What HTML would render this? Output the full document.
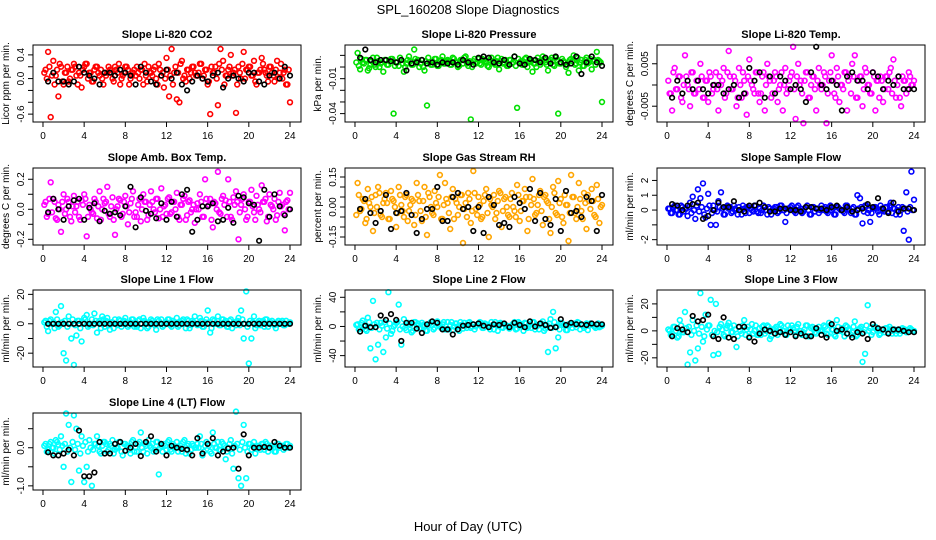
<!DOCTYPE html>
<html><head><meta charset="utf-8"><style>
html,body{margin:0;padding:0;background:#fff;}
svg{display:block;font-family:"Liberation Sans",sans-serif;}
</style></head><body>
<svg id="chart" width="936" height="540" viewBox="0 0 936 540" xmlns="http://www.w3.org/2000/svg">
<text x="468" y="14" text-anchor="middle" font-size="13">SPL_160208  Slope Diagnostics</text>
<text x="468" y="531" text-anchor="middle" font-size="13">Hour of Day (UTC)</text>
</svg>
<script>
// ---------- data ----------
const xTicks = [0,4,8,12,16,20,24];
const titles = ["Slope Li-820 CO2","Slope Li-820 Pressure","Slope Li-820 Temp.","Slope Amb. Box Temp.","Slope Gas Stream RH","Slope Sample Flow","Slope Line 1 Flow","Slope Line 2 Flow","Slope Line 3 Flow","Slope Line 4 (LT) Flow"];
const yTitles = ["Licor ppm per min.","kPa per min.","degrees C per min.","degrees C per min.","percent per min.","ml/min per min.","ml/min per min.","ml/min per min.","ml/min per min.","ml/min per min."];

const co2 = [.15,.45,-.65,.3,.05,-.3,.2,-.1,.1,-.05,.15,.25, .05,.1,-.15,.2,.25,.1,-.05,.15,.2,.05,.0,.1, .1,.15,.0,.2,.1,-.1,.05,.2,.15,.0,.1,.05, .1,.15,-.1,.05,.2,.1,.15,.0,.25,.05,-.15,.35, -.3,.5,.1,-.35,-.4,.3,.05,.15,.0,.2,.1,.05, .25,.0,.15,-.1,-.6,.1,.2,-.45,.5,.3,.05,.15, .4,.1,-.58,.2,.0,.45,.15,.2,.05,.3,-.1,.1, .35,.15,.05,.2,.1,-.05,.3,.1,.0,.15,-.1,-.4];
const co2B = [.1,0,.2,.05,-.1,.15,.25,-.05,.1,.2,0,.15, .2,-.1,.05,.15,.25,0,.1,-.05,.2,.1,.15,-.1, .05,.2,.1,-.05,.15,.25,0,.1,.2,-.1,.05,.15, .2,0,.15,.25,-.05,.1,.05,.2,-.1,.15,.1,0, .15,.05,-.1,.2,.1,.25,0,-.05,.15,.1,.2,.05, .1,.25,.05,.15,-.05,.2,.1,0,.25,.15,-.1,.05, .2,.05,.15,-.1,.1,.25,0,.15,.2,.05,-.05,.1, .15,.25,.1,-.05,.2,.05,.15,0,.25,.1,-.1,.15];
const co2Ref = [-.05,.1,-.05,-.05,-.1,-.05,.2,.1,.05,.0,-.1,.1,.1,.05,.15,.1,.05,-.1,.2,.1,-.05,-.1,.05,.15,.0,.1,-.1,-.2,-.05,.05,.0,-.05,.05,.1,-.15,.0,.05,.0,-.05,.1,.1,-.05,-.1,.05,.1,.0,.2,.05];

const pressure = [.012,-.002,.004,.006,-.003,.002,.008,.000,.005,.003,-.004,.006, .002,.007,-.040,.004,.001,.006,-.004,.003,.009,.002,.015,.005, .000,.006,-.003,-.033,.004,.002,.007,.001,.005,.009,.003,.006, .002,.008,.004,.000,.006,.003,.009,.001,-.045,.005,.003,.007, .002,.006,.004,.000,.008,.003,.005,-.002,.007,.004,.001,.006, .003,.009,-.035,.004,.002,.007,.000,.005,-.004,.003,.008,.002, .009,.004,-.003,.006,.002,.008,-.040,.003,.005,.000,-.005,.007, .010,.003,-.003,.006,.001,.008,.004,-.002,.006,.013,.005,-.030];
const pressureB = [.004,.001,.007,.003,.006,-.001,.005,.002,.008,.000,.004,.006, .002,.005,.007,.001,.004,.008,.003,.000,.006,.005,.002,.007, .006,.003,.000,.005,.008,.002,.004,.007,.001,.006,.003,.005, .005,.002,.007,.004,.001,.006,.008,.003,.005,.000,.007,.004, .003,.007,.005,.001,.006,.004,.002,.008,.005,.003,.006,.001, .006,.004,.001,.007,.005,.002,.008,.004,.006,.003,.000,.005, .004,.007,.002,.005,.008,.001,.006,.003,.007,.004,.002,.006, .005,.002,.008,.004,.001,.006,.003,.007,.005,.002,.006,.004];
const pressureRef = [.008,.015,.006,.004,.006,.006,.005,.004,.006,-.003,.003,.004,.006,.003,.004,.002,.004,.003,.004,.002,.006,.004,.002,.008,.009,.008,.004,.003,.006,.002,.009,.003,.002,.007,.006,.004,.008,.003,.009,.004,.002,.003,.009,-.006,.004,.009,.004,.001];

const licorTemp = [-.002,-.006,.004,-.001,.002,-.004,.007,.000,-.005,.003,-.002,.001, .005,-.003,.001,-.004,.002,-.001,.003,-.006,.000,.004,-.002,.008, -.001,.002,-.005,.004,-.003,.001,-.007,.006,.000,-.002,.003,-.004, .002,-.006,.005,.001,-.002,.003,-.004,.000,-.006,.004,-.001,.002, .009,-.008,.005,.001,-.009,.003,-.003,.000,.002,-.006,.004,-.001, .003,-.009,.001,.007,-.002,.004,-.004,.000,.003,-.006,.002,.005, .007,-.003,.002,-.005,.004,.000,-.002,.003,-.006,.001,.002,-.004, .002,-.001,.004,.006,-.003,.002,-.005,.001,-.002,.003,.000,.001];
const licorTempB = [.001,-.002,.003,-.001,.002,-.003,.000,.002,-.001,.003,-.002,.001, -.001,.002,-.003,.001,.003,-.002,.000,-.001,.002,.001,-.003,.003, .002,-.001,.001,-.003,.000,.003,-.002,.002,.001,-.001,.003,-.002, -.002,.003,.000,.002,-.003,.001,.002,-.001,.003,.000,-.002,.001, .003,-.001,.002,.000,-.002,.001,.003,-.003,.002,-.001,.001,.000, .000,.002,-.002,.003,.001,-.003,.002,.000,-.001,.003,.001,-.002, .002,-.003,.001,.002,-.001,.003,.000,-.002,.002,.001,-.003,.001, -.001,.002,.003,-.002,.001,.000,-.003,.002,.001,-.001,.002,.000];
const licorTempRef = [-.003,.001,-.002,.001,-.001,.001,-.001,-.002,.000,.000,-.002,-.001,.000,-.003,-.002,.004,.001,.003,-.003,.002,-.002,.002,.001,-.001,.000,-.001,-.004,.003,.009,.000,-.001,.001,.000,-.006,.002,.003,.001,.001,-.001,.003,.002,-.001,.001,.000,.002,-.001,-.001,-.001];

const boxTemp = [.05,-.03,.18,.07,-.06,.03,-.15,.10,.00,.05,-.08,.09, .02,-.05,.06,.10,-.18,.03,-.02,.07,-.06,.12,.00,.04, .15,-.05,.08,-.17,.02,.06,-.03,.09,-.10,.04,.12,-.02, .03,-.08,.10,.05,-.04,.12,.00,.07,-.06,.14,.02,-.03, .08,-.02,.05,.11,-.07,.03,.09,-.04,.06,.00,-.09,.04, .10,-.05,.20,.02,.07,-.12,.04,.25,-.03,.09,.06,.20, -.05,.08,.12,-.20,.03,.10,-.07,.05,.13,-.02,.09,.00, .16,.05,-.08,.10,.02,.07,-.04,.11,.03,-.14,.06,.11];
const boxTempB = [.03,-.05,.07,-.02,.05,-.07,.00,.05,-.03,.07,-.05,.02, -.02,.05,-.07,.03,.07,-.05,.00,-.03,.05,.02,-.07,.07, .05,-.03,.02,-.07,.00,.07,-.05,.05,.02,-.02,.07,-.05, -.05,.07,.00,.05,-.07,.03,.05,-.02,.07,.00,-.05,.03, .07,-.03,.05,.00,-.05,.03,.07,-.07,.05,-.02,.03,.00, .00,.05,-.05,.07,.03,-.07,.05,.00,-.02,.07,.03,-.05, .05,-.07,.03,.05,-.02,.07,.00,-.05,.05,.02,-.07,.03, -.02,.05,.07,-.05,.03,.00,-.07,.05,.02,-.03,.05,.00];
const boxTempRef = [-.02,.07,.00,-.07,.02,.06,.07,-.07,.01,.04,-.08,-.01,-.03,-.02,-.04,.02,.15,-.12,.08,-.01,-.03,-.06,.04,-.07,.05,-.05,.10,.13,-.15,-.07,.02,.02,.04,-.08,-.07,.01,-.09,.09,.08,.04,.03,-.21,.13,-.05,.10,.02,-.04,.00];

const gasRH = [.12,-.02,.04,-.08,.09,.00,-.12,.06,.10,-.04,.02,.07, -.06,.08,.03,-.10,.10,.01,-.05,.06,-.02,.04,-.09,.12, .03,-.07,.10,-.14,.05,-.03,.08,.00,.16,-.06,.12,.02, -.11,.09,.04,-.04,.06,-.18,.02,.07,-.08,.18,-.01,.05, -.06,.03,.09,-.15,.01,.06,-.03,.08,-.10,.04,.00,-.05, .07,-.02,.11,-.07,.03,.09,-.12,.05,.14,-.04,.01,.08, -.09,.06,.02,-.13,.10,-.03,.13,.04,-.08,.01,-.17,.16, .05,-.06,.12,-.02,.07,-.11,.03,.09,-.04,.11,-.08,.01];
const gasRHB = [-.04,.06,-.01,.03,-.06,.02,.05,-.03,.00,.07,-.05,.04, .02,-.06,.04,.00,-.03,.06,-.02,.05,-.07,.01,.03,-.04, .06,-.02,.03,-.05,.07,.00,-.04,.02,.05,-.06,.01,.04, -.03,.05,-.06,.02,.00,.06,-.01,-.05,.04,-.02,.07,-.04, .01,-.05,.06,-.03,.04,.00,-.06,.03,.07,-.02,.05,-.04, .04,.00,-.05,.06,-.02,.03,.05,-.06,.01,.04,-.03,.06, -.02,.05,.03,-.06,.00,.07,-.04,.02,-.05,.06,.01,-.03, .05,-.03,.00,.04,-.06,.02,.06,-.01,.03,-.05,.04,.00];
const gasRHRef = [-.01,.04,-.03,-.08,-.02,.06,-.11,-.03,-.02,.07,-.04,-.13,-.06,-.01,-.01,.10,-.07,-.07,.05,.07,-.01,.00,-.12,.00,-.13,.05,.01,-.09,-.08,-.10,.05,.02,-.01,.09,-.07,.07,-.06,-.09,.04,-.12,.08,-.03,-.02,-.05,.05,.03,-.12,.06];

const sampleFlow = [.1,-.2,.3,.0,-.3,.2,.1,-.4,.5,.9,-.6,1.4, .8,1.8,-.5,1.1,-1.0,.3,-1.0,.6,1.2,-.3,.2,.1, -.2,.3,.0,.2,-.3,.1,.2,-.2,.0,.3,-.1,.1, .0,.2,-.3,.1,.0,.2,-.2,.3,.0,-.8,.1,.2, .0,-.2,.3,.1,-.1,.2,.0,-.3,.2,.1,-.2,.3, .1,-.1,.2,.0,-.3,.2,.1,.0,-.2,.3,.0,.1, -.3,1.0,.8,-.9,.3,-.2,-.8,.1,.2,-.1,.3,.0, .2,-.1,.5,.1,-.3,.2,.0,-1.4,1.2,-2.0,2.6,.7];
const sampleFlowB = [.1,-.2,.2,0,-.3,.3,-.1,.1,.2,-.2,0,.3, -.1,.2,-.3,.1,.3,-.2,0,-.1,.2,.1,-.3,.3, .2,-.1,.1,-.3,0,.3,-.2,.2,.1,-.1,.3,-.2, -.2,.3,0,.2,-.3,.1,.2,-.1,.3,0,-.2,.1, .3,-.1,.2,0,-.2,.1,.3,-.3,.2,-.1,.1,0, 0,.2,-.2,.3,.1,-.3,.2,0,-.1,.3,.1,-.2, .2,-.3,.1,.2,-.1,.3,0,-.2,.2,.1,-.3,.1, -.1,.2,.3,-.2,.1,0,-.3,.2,.1,-.1,.2,0];
const sampleFlowRef = [.4,.3,.0,.3,.4,.5,-.6,-.4,.0,.5,.2,.2,.6,.0,-.1,.3,.3,.5,.2,-.1,-.1,.1,.1,.0,.0,-.1,.2,.2,.1,.1,.0,.2,.3,.0,.2,-.1,.0,.1,.4,.2,.8,.1,-.2,.5,-.1,.1,.1,.0];

const line1 = [2,-5,3,1,8,-2,12,-20,-25,5,-10,-28, -8,2,-12,4,6,-1,3,7,-6,2,5,-2, 4,-4,1,3,-1,2,0,4,-2,1,3,-1, 2,-3,4,1,-2,3,0,-4,2,3,-1,1, 3,-2,1,4,-1,2,0,3,-3,2,5,-1, 4,-2,1,9,-6,3,0,5,-1,3,2,-2, 3,0,-1,4,9,-10,22,-27,-10,5,-1,2, 1,-2,3,0,2,-1,1,0,2,-1,0,1];
const line1B = [1,-2,2,0,-3,3,-1,1,2,-2,0,3, -1,2,-3,1,3,-2,0,-1,2,1,-3,3, 2,-1,1,-3,0,3,-2,2,1,-1,3,-2, -2,3,0,2,-3,1,2,-1,3,0,-2,1, 3,-1,2,0,-2,1,3,-3,2,-1,1,0, 0,2,-2,3,1,-3,2,0,-1,3,1,-2, 2,-3,1,2,-1,3,0,-2,2,1,-3,1, -1,2,3,-2,1,0,-3,2,1,-1,2,0];
const line1Ref = [0,0,0,0,0,0,0,0,0,0,0,0,0,0,0,0,0,0,0,0,0,0,0,0,0,0,0,0,0,0,0,0,0,0,0,0,0,0,0,0,0,0,0,0,0,0,0,0];

const line2 = [3,-2,8,-4,12,-30,35,-45,-25,5,-35,-15, 47,-10,0,5,30,-25,10,-5,3,-8,6,2, -3,5,1,-6,4,2,-2,7,0,3,-4,6, 2,-5,4,0,6,-3,1,5,-2,3,0,4, 5,-2,3,0,6,-4,2,4,-1,3,1,-3, 2,6,-3,4,0,5,-2,3,6,-4,1,3, 7,-3,-35,10,20,-30,-15,5,2,-5,3,4, 3,-1,5,2,-2,4,1,3,0,2,-1,1];
const line2B = [2,-4,5,0,-6,6,-2,3,5,-4,1,6, -3,4,-6,2,6,-4,0,-2,5,2,-6,6, 4,-2,2,-6,1,6,-4,5,2,-2,6,-4, -4,6,0,4,-6,2,5,-2,6,0,-4,2, 6,-2,4,0,-4,2,6,-6,5,-2,2,0, 0,4,-4,6,2,-6,4,0,-2,6,2,-4, 4,-6,2,4,-2,6,0,-4,4,2,-5,2, -2,4,6,-4,2,0,-5,4,2,-2,4,0];
const line2Ref = [-7,1,-1,-1,15,9,17,9,-20,5,5,-3,-9,3,7,5,-4,-4,-11,-4,1,2,3,4,1,-1,3,2,4,-1,5,2,-1,7,0,4,2,-2,-1,10,2,5,3,3,2,4,3,3];

const line3 = [0,-2,3,-5,8,-1,14,-25,-16,8,-22,-13, 28,-8,12,4,23,-18,20,-17,5,-3,2,6, -1,4,-12,3,-2,8,1,-4,5,0,-3,2, 3,-2,4,-6,1,2,-3,5,0,-2,4,1, 2,-3,5,0,-1,4,-4,2,1,-2,3,0, 4,-2,6,1,-3,8,0,2,-4,3,1,-1, 7,-3,2,-23,-17,19,2,-1,3,0,-2,1, 2,-1,1,0,-2,1,0,1,-1,0,1,0];
const line3B = [1,-3,3,0,-4,4,-1,2,3,-3,0,4, -2,3,-4,1,4,-3,0,-1,3,1,-4,4, 3,-1,1,-4,0,4,-3,3,1,-2,4,-3, -3,4,0,3,-4,1,3,-1,4,0,-3,1, 4,-1,3,0,-3,1,4,-4,3,-1,1,0, 0,3,-3,4,1,-4,3,0,-1,4,1,-3, 3,-4,1,3,-1,4,0,-3,3,1,-3,1, -1,2,3,-2,1,0,-2,2,1,-1,2,0];
const line3Ref = [-4,2,1,-1,11,7,8,12,-4,-6,10,-5,-6,3,3,-5,-8,-2,1,0,-2,-1,-3,-1,-4,-2,-4,-4,2,-3,-5,5,0,1,-2,-5,-1,-2,-6,5,2,1,-2,1,1,0,-1,-1];

const line4 = [.1,-.05,.15,.0,.2,.08,.3,-.5,.9,.6,-.9,.85, .5,-.6,.3,-.9,-.5,.2,-1.0,.1,.3,-.1,.05,.15, -.1,.1,.2,-.05,.0,.15,-.2,.1,.05,-.15,.2,.0, .1,.4,-.1,.05,.2,.0,-.1,.15,-.7,.05,.1,-.05, .2,-.1,.05,.15,.0,-.1,.2,.05,-.15,.1,.0,.1, .3,-.2,.05,.1,-.1,.4,.0,.15,-.05,.1,-.3,.0, .2,-.55,.95,-.8,-1.0,.6,-.8,.1,-.05,.15,.0,.05, .1,-.05,.1,.0,.05,-.1,.1,.0,.05,.0,.1,.05];
const line4B = [.05,-.1,.1,0,-.15,.15,-.05,.05,.1,-.1,0,.15, -.05,.1,-.15,.05,.15,-.1,0,-.05,.1,.05,-.15,.15, .1,-.05,.05,-.15,0,.15,-.1,.1,.05,-.05,.15,-.1, -.1,.15,0,.1,-.15,.05,.1,-.05,.15,0,-.1,.05, .15,-.05,.1,0,-.1,.05,.15,-.15,.1,-.05,.05,0, 0,.1,-.1,.15,.05,-.15,.1,0,-.05,.15,.05,-.1, .1,-.15,.05,.1,-.05,.15,0,-.1,.1,.05,-.15,.05, -.05,.1,.15,-.1,.05,0,-.1,.1,.05,-.05,.1,0];
const line4Ref = [-.12,-.2,-.2,-.15,-.05,-.2,.45,-.75,-.75,-.65,.15,-.15,-.15,.1,.15,-.08,.0,.1,-.22,.15,.3,-.1,.1,-.2,.05,.0,-.03,-.05,-.2,.25,-.15,.1,.25,-.2,-.1,-.02,.0,-.55,.35,-.2,.0,.0,.02,.0,.15,.05,.0,.0];

const yTicks = [[-.6,-.4,-.2,0,.2,.4],[-.04,-.03,-.02,-.01,0,.01],[-.005,0,.005],[-.2,-.1,0,.1,.2],[-.15,-.1,-.05,0,.05,.1,.15],[-2,-1,0,1,2],[-20,-10,0,10,20],[-40,-20,0,20,40],[-20,-10,0,10,20],[-1,-.5,0,.5]];
const yTickLabels = [["-0.6","","","0.0","","0.4"],["-0.04","","","-0.01","",""],["-0.005","","0.005"],["-0.2","","0.0","","0.2"],["-0.15","","","0.00","","","0.15"],["-2","","0","1","2"],["-20","","0","","20"],["-40","","0","","40"],["-20","","0","","20"],["-1.0","","0.0",""]];
const series = [co2,pressure,licorTemp,boxTemp,gasRH,sampleFlow,line1,line2,line3,line4];
const bandSeries = [co2B,pressureB,licorTempB,boxTempB,gasRHB,sampleFlowB,line1B,line2B,line3B,line4B];
const refSeries = [co2Ref,pressureRef,licorTempRef,boxTempRef,gasRHRef,sampleFlowRef,line1Ref,line2Ref,line3Ref,line4Ref];

// ---------- layout / style ----------
const yDomains = [[-.733,.567],[-.0472,.0189],[-.00872,.00942],[-.238,.275],[-.19,.195],[-2.36,2.84],[-29.4,22.97],[-55.6,50],[-26.8,30.3],[-1.109,.912]];
const colors = ["#ff0000","#00e000","#ff00ff","#ff00ff","#ffa500","#0000ff","#00ffff","#00ffff","#00ffff","#00ffff"];
const slugs = ["co2","pressure","licor-temp","box-temp","gas-rh","sample-flow","line1-flow","line2-flow","line3-flow","line4-flow"];
const colLeft = [33,345,657], rowTop = [45,168,290,413], W = 268, H = 77;
const X0 = -0.97, X1 = 25.07;

const NS = "http://www.w3.org/2000/svg";
const svg = document.getElementById("chart");
function mk(tag, attrs, parent){ const e=document.createElementNS(NS,tag); for(const k in attrs) e.setAttribute(k,attrs[k]); (parent||svg).appendChild(e); return e; }

series.forEach((vals, p) => {
  const L = colLeft[p%3], T = rowTop[Math.floor(p/3)];
  const [y0,y1] = yDomains[p];
  const xs = h => L + (h - X0)/(X1 - X0)*W;
  const ys = v => T + (y1 - v)/(y1 - y0)*H;
  const g = mk("g",{});
  
  
  const t = mk("text",{x:L+W/2,y:T-7,"text-anchor":"middle","font-size":"11","font-weight":"bold"},g);
  t.textContent = titles[p];
  
  
  const yt = mk("text",{transform:`translate(${L-24},${T+H/2}) rotate(-90)`,"text-anchor":"middle","font-size":"10"},g);
  yt.textContent = yTitles[p];
  
  
  const pts = mk("g",{fill:"none",stroke:colors[p],"stroke-width":"1.6"},g);
  
  
  const band = bandSeries[p];
  band.forEach((v,i) => {
    const h = (i+0.5)*24/band.length;
    const c = mk("circle",{cx:xs(h).toFixed(1),cy:ys(v).toFixed(1),r:"2.4"},pts);
    
    
  });
  vals.forEach((v,i) => {
    const h = (i+1)*24/vals.length;
    const c = mk("circle",{cx:xs(h).toFixed(1),cy:ys(v).toFixed(1),r:"2.4"},pts);
    
    
  });
  const ref = refSeries[p];
  const bp = mk("g",{fill:"none",stroke:"#000","stroke-width":"1.6"},g);
  
  
  ref.forEach((v,i) => {
    const h = (i+1)*24/ref.length;
    const c = mk("circle",{cx:xs(h).toFixed(1),cy:ys(v).toFixed(1),r:"2.3"},bp);
    
    
  });
  const box = mk("rect",{x:L,y:T,width:W,height:H,fill:"none",stroke:"#000","stroke-width":"1"},g);
  
  
  const xa = mk("g",{},g);
  
  
  mk("line",{x1:xs(xTicks[0]),x2:xs(xTicks[xTicks.length-1]),y1:T+H,y2:T+H,stroke:"#000"},xa);
  xTicks.forEach(h => {
    mk("line",{x1:xs(h),x2:xs(h),y1:T+H,y2:T+H+5,stroke:"#000"},xa);
    const lb = mk("text",{x:xs(h),y:T+H+17,"text-anchor":"middle","font-size":"10"},xa);
    lb.textContent = h;
    
    
  });
  const ya = mk("g",{},g);
  
  
  const tk = yTicks[p];
  mk("line",{x1:L,x2:L,y1:ys(tk[0]),y2:ys(tk[tk.length-1]),stroke:"#000"},ya);
  tk.forEach((v,i) => {
    mk("line",{x1:L-5,x2:L,y1:ys(v),y2:ys(v),stroke:"#000"},ya);
    const s = yTickLabels[p][i];
    if (s) {
      const lb = mk("text",{transform:`translate(${L-9},${ys(v)}) rotate(-90)`,"text-anchor":"middle","font-size":"10"},ya);
      lb.textContent = s;
      
      
    }
  });
});
</script>
</body></html>
